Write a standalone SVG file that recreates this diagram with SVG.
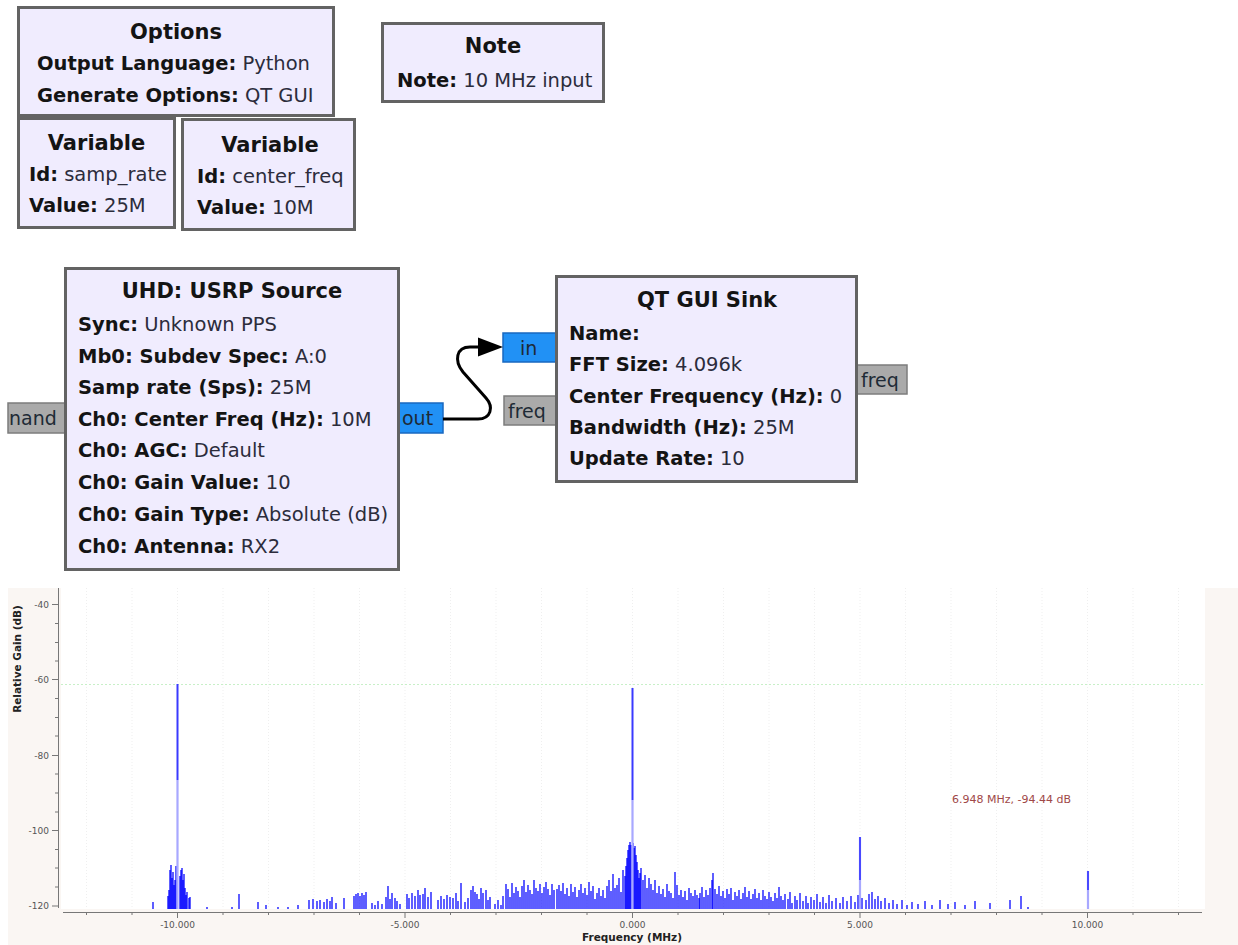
<svg xmlns="http://www.w3.org/2000/svg" width="1238" height="945" viewBox="0 0 1238 945">
  <style>
    .blk{fill:#f0ecfe;stroke:#636363;stroke-width:3}
    .ttl{font-family:"DejaVu Sans",sans-serif;font-size:21px;font-weight:bold;fill:#141414;text-anchor:middle}
    .prm{font-family:"DejaVu Sans",sans-serif;font-size:19.5px;fill:#2c2c3c}
    .prm .k{font-weight:bold;fill:#141414}
    .pblue{fill:#2191f5;stroke:#1868c0;stroke-width:1.5}
    .pgray{fill:#aaaaaa;stroke:#7c7c7c;stroke-width:1.5}
    .ptx{font-family:"DejaVu Sans",sans-serif;font-size:19px;fill:#1e2a36}
    .wire{fill:none;stroke:#000;stroke-width:3}
    .ax{stroke:#777;stroke-width:1;fill:none}
    .tick{font-family:"DejaVu Sans",sans-serif;font-size:9px;fill:#555}
    .grid{stroke:#efefef;stroke-width:1;stroke-dasharray:1 2}
    .trace{fill:none;stroke:#1a1aff;stroke-width:1.4}
  </style>

  <rect width="1238" height="945" fill="#ffffff"/>

  <!-- ports (drawn beneath the blocks) -->
  <g id="ports">
    <g id="port-command"><rect class="pgray" x="8" y="403" width="60" height="30"/><text class="ptx" x="9" y="425">nand</text></g>
    <g id="port-out"><rect class="pblue" x="396" y="403" width="47" height="30"/><text class="ptx" x="402" y="425">out</text></g>
    <g id="port-in"><rect class="pblue" x="503" y="333" width="56" height="29"/><text class="ptx" x="520" y="355">in</text></g>
    <g id="port-freq-in"><rect class="pgray" x="504" y="396" width="55" height="29"/><text class="ptx" x="508" y="418">freq</text></g>
    <g id="port-freq-out"><rect class="pgray" x="853" y="365" width="54" height="29"/><text class="ptx" x="861" y="387">freq</text></g>
  </g>

  <g id="options">
    <rect class="blk" x="18.5" y="7.5" width="315" height="108"/>
    <text class="ttl" x="176" y="39">Options</text>
    <text class="prm" x="37" y="70"><tspan class="k">Output Language:</tspan> Python</text>
    <text class="prm" x="37" y="102"><tspan class="k">Generate Options:</tspan> QT GUI</text>
  </g>

  <g id="var-samp-rate">
    <rect class="blk" x="18.5" y="118.5" width="156" height="109"/>
    <text class="ttl" x="96.5" y="150">Variable</text>
    <text class="prm" x="29" y="181"><tspan class="k">Id:</tspan> samp_rate</text>
    <text class="prm" x="29" y="212"><tspan class="k">Value:</tspan> 25M</text>
  </g>

  <g id="var-center-freq">
    <rect class="blk" x="182.5" y="119.5" width="172" height="110"/>
    <text class="ttl" x="270" y="152">Variable</text>
    <text class="prm" x="197" y="183"><tspan class="k">Id:</tspan> center_freq</text>
    <text class="prm" x="197" y="214"><tspan class="k">Value:</tspan> 10M</text>
  </g>

  <g id="note">
    <rect class="blk" x="382.5" y="23.5" width="221" height="78"/>
    <text class="ttl" x="493" y="53">Note</text>
    <text class="prm" x="397" y="87"><tspan class="k">Note:</tspan> 10 MHz input</text>
  </g>

  <g id="usrp-source">
    <rect class="blk" x="65.5" y="268.5" width="333" height="301"/>
    <text class="ttl" x="232" y="298">UHD: USRP Source</text>
    <text class="prm" x="78" y="331"><tspan class="k">Sync:</tspan> Unknown PPS</text>
    <text class="prm" x="78" y="363"><tspan class="k">Mb0: Subdev Spec:</tspan> A:0</text>
    <text class="prm" x="78" y="394"><tspan class="k">Samp rate (Sps):</tspan> 25M</text>
    <text class="prm" x="78" y="426"><tspan class="k">Ch0: Center Freq (Hz):</tspan> 10M</text>
    <text class="prm" x="78" y="457"><tspan class="k">Ch0: AGC:</tspan> Default</text>
    <text class="prm" x="78" y="489"><tspan class="k">Ch0: Gain Value:</tspan> 10</text>
    <text class="prm" x="78" y="521"><tspan class="k">Ch0: Gain Type:</tspan> Absolute (dB)</text>
    <text class="prm" x="78" y="553"><tspan class="k">Ch0: Antenna:</tspan> RX2</text>
  </g>

  <g id="qt-gui-sink">
    <rect class="blk" x="556.5" y="276.5" width="300" height="205"/>
    <text class="ttl" x="707" y="307">QT GUI Sink</text>
    <text class="prm" x="569" y="340"><tspan class="k">Name:</tspan></text>
    <text class="prm" x="569" y="371"><tspan class="k">FFT Size:</tspan> 4.096k</text>
    <text class="prm" x="569" y="403"><tspan class="k">Center Frequency (Hz):</tspan> 0</text>
    <text class="prm" x="569" y="434"><tspan class="k">Bandwidth (Hz):</tspan> 25M</text>
    <text class="prm" x="569" y="465"><tspan class="k">Update Rate:</tspan> 10</text>
  </g>

  <g id="connections">
    <path class="wire" d="M443,419 L478,419 C491,419 494,407 486,398 L463,372 C454,361 456,347 470,347 L482,347"/>
    <path d="M503,347 L478,337.5 L478,356.5 z" fill="#000"/>
  </g>

  <!-- frequency display -->
  <g id="fft-plot">
    <rect x="8" y="588" width="1230" height="357" fill="#faf6f3"/>
    <rect x="61" y="588" width="1144" height="321" fill="#ffffff"/>
    <!-- vertical grid at every MHz -->
    <path class="grid" d="M86.5,588V909M132,588V909M177.5,588V909M223,588V909M268.5,588V909M314,588V909M359.5,588V909M405,588V909M450.5,588V909M496,588V909M541.5,588V909M587,588V909M632.5,588V909M678,588V909M723.5,588V909M769,588V909M814.5,588V909M860,588V909M905.5,588V909M951,588V909M996.5,588V909M1042,588V909M1087.5,588V909M1133,588V909M1178.5,588V909"/>
    <!-- peak-hold level -->
    <line x1="61" y1="684.5" x2="1205" y2="684.5" stroke="#c8f0c8" stroke-width="1" stroke-dasharray="2 2"/>

    <!-- spectrum trace -->
    <path class="trace" d="M153,909V902M168,909V896M169,909V890M170,909V870M171,909V865M172,909V878M173,909V872M174,909V885M175,909V880M176,909V866M180,909V876M181,909V870M182,909V868M183,909V880M184,909V874M185,909V888M186,909V895M187,909V892M189,909V898M190,909V897M207,909V907M232,909V907M239,909V894M258,909V902M266,909V905M278,909V907M288,909V907M298,909V905M309,909V900M313,909V899M317,909V901M320,909V900M324,909V902M327,909V899M330,909V901M332,909V897M336,909V903M344,909V898M354,909V896M356,909V894M358,909V893M360,909V896M362,909V893M364,909V895M366,909V892M372,909V903M375,909V905M378,909V901M382,909V904M386,909V897M388,909V886M390,909V899M392,909V893M395,909V898M397,909V901M400,909V904M407,909V894M409,909V898M412,909V893M415,909V896M418,909V890M420,909V895M423,909V894M425,909V888M428,909V897M431,909V892M438,909V900M441,909V896M444,909V899M447,909V895M450,909V897M453,909V898M456,909V893M458,909V901M461,909V883M465,909V902M468,909V898M471,909V890M473,909V886M475,909V892M477,909V894M479,909V899M481,909V888M483,909V893M486,909V890M488,909V900M490,909V897M495,909V904M498,909V900M501,909V905M503,909V896M506,909V884M508,909V889M510,909V897M512,909V883M514,909V893M516,909V887M518,909V891M520,909V897M522,909V886M524,909V880M526,909V892M528,909V885M530,909V890M532,909V894M534,909V880M536,909V888M538,909V891M540,909V884M542,909V893M544,909V887M546,909V882M548,909V889M550,909V895M552,909V884M554,909V890M557,909V889M559,909V885M561,909V891M563,909V883M565,909V894M567,909V888M569,909V896M571,909V884M573,909V892M575,909V887M577,909V897M579,909V890M581,909V884M583,909V893M585,909V888M587,909V895M589,909V882M591,909V891M593,909V886M595,909V899M597,909V893M599,909V888M601,909V896M603,909V890M605,909V898M607,909V886M609,909V880M611,909V891M613,909V874M615,909V888M617,909V885M619,909V878M621,909V892M623,909V870M625,909V876M626,909V866M627,909V858M628,909V850M629,909V845M630,909V842M631,909V845M633,909V843M634,909V848M635,909V846M636,909V855M637,909V862M638,909V870M639,909V878M640,909V873M641,909V868M643,909V880M645,909V875M647,909V888M649,909V878M651,909V884M653,909V890M655,909V880M657,909V893M659,909V886M661,909V894M663,909V889M665,909V897M667,909V884M669,909V891M671,909V893M673,909V898M675,909V872M677,909V885M679,909V895M681,909V890M683,909V897M685,909V891M687,909V900M689,909V888M691,909V893M693,909V896M695,909V890M697,909V895M699,909V898M700,909V893M702,909V887M704,909V897M706,909V890M708,909V895M710,909V888M712,909V880M713,909V873M715,909V889M717,909V894M719,909V886M721,909V896M723,909V891M725,909V898M727,909V889M729,909V894M731,909V888M733,909V900M735,909V892M737,909V896M739,909V890M741,909V899M743,909V893M745,909V887M747,909V897M749,909V891M751,909V899M753,909V894M755,909V889M757,909V898M759,909V893M761,909V900M763,909V890M765,909V896M767,909V899M769,909V892M771,909V897M773,909V901M775,909V893M777,909V898M779,909V887M781,909V896M783,909V900M785,909V894M788,909V899M790,909V892M792,909V903M795,909V896M797,909V900M800,909V893M803,909V901M806,909V896M808,909V903M811,909V897M814,909V900M817,909V894M820,909V902M823,909V897M826,909V903M829,909V895M832,909V901M836,909V898M840,909V903M843,909V897M847,909V901M851,909V896M855,909V902M858,909V895M862,909V898M866,909V900M869,909V894M872,909V892M875,909V899M878,909V896M881,909V901M885,909V898M889,909V903M893,909V900M897,909V904M902,909V900M907,909V905M912,909V902M918,909V904M925,909V901M932,909V905M940,909V900M948,909V904M955,909V902M965,909V905M975,909V901M990,909V903M1010,909V900M1021,909V896M1028,909V907"/>
    <!-- strong carriers -->
    <path d="M177.5,909V780M632.5,909V800M860,909V837M1088,909V871" stroke="#a8a8ff" stroke-width="2.2" fill="none"/>
    <path d="M177.5,780V684M632.5,800V688" stroke="#3a3aff" stroke-width="2" fill="none"/>
    <path d="M860,880V837M1088,890V871" stroke="#2a2aff" stroke-width="1.5" fill="none"/>

    <!-- axes -->
    <path class="ax" d="M58.5,588V908M63,912.5H1202"/>
    <path class="ax" d="M52,604.5H58.5M55,623.5H58.5M55,642.5H58.5M55,661H58.5M52,679.5H58.5M55,698.5H58.5M55,717.5H58.5M55,736H58.5M52,755.5H58.5M55,774H58.5M55,793H58.5M55,812H58.5M52,830.5H58.5M55,849.5H58.5M55,868H58.5M55,887H58.5M52,906H58.5"/>
    <path class="ax" d="M86.5,912.5V915M132,912.5V915M177.5,912.5V918M223,912.5V915M268.5,912.5V915M314,912.5V915M359.5,912.5V915M405,912.5V918M450.5,912.5V915M496,912.5V915M541.5,912.5V915M587,912.5V915M632.5,912.5V918M678,912.5V915M723.5,912.5V915M769,912.5V915M814.5,912.5V915M860,912.5V918M905.5,912.5V915M951,912.5V915M996.5,912.5V915M1042,912.5V915M1087.5,912.5V918M1133,912.5V915M1178.5,912.5V915"/>
    <g class="tick" text-anchor="end">
      <text x="49" y="607.5">-40</text>
      <text x="49" y="682.5">-60</text>
      <text x="49" y="758.5">-80</text>
      <text x="49" y="833.5">-100</text>
      <text x="49" y="909">-120</text>
    </g>
    <g class="tick" text-anchor="middle">
      <text x="177.5" y="928">-10.000</text>
      <text x="405" y="928">-5.000</text>
      <text x="632.5" y="928">0.000</text>
      <text x="860" y="928">5.000</text>
      <text x="1087.5" y="928">10.000</text>
    </g>
    <text x="632" y="941" font-family="DejaVu Sans, sans-serif" font-size="10.5" font-weight="bold" fill="#222" text-anchor="middle">Frequency (MHz)</text>
    <text transform="translate(21,659) rotate(-90)" font-family="DejaVu Sans, sans-serif" font-size="10.5" font-weight="bold" fill="#222" text-anchor="middle">Relative Gain (dB)</text>
    <text x="952" y="803" font-family="DejaVu Sans, sans-serif" font-size="11" fill="#a04848">6.948 MHz, -94.44 dB</text>
  </g>
</svg>
